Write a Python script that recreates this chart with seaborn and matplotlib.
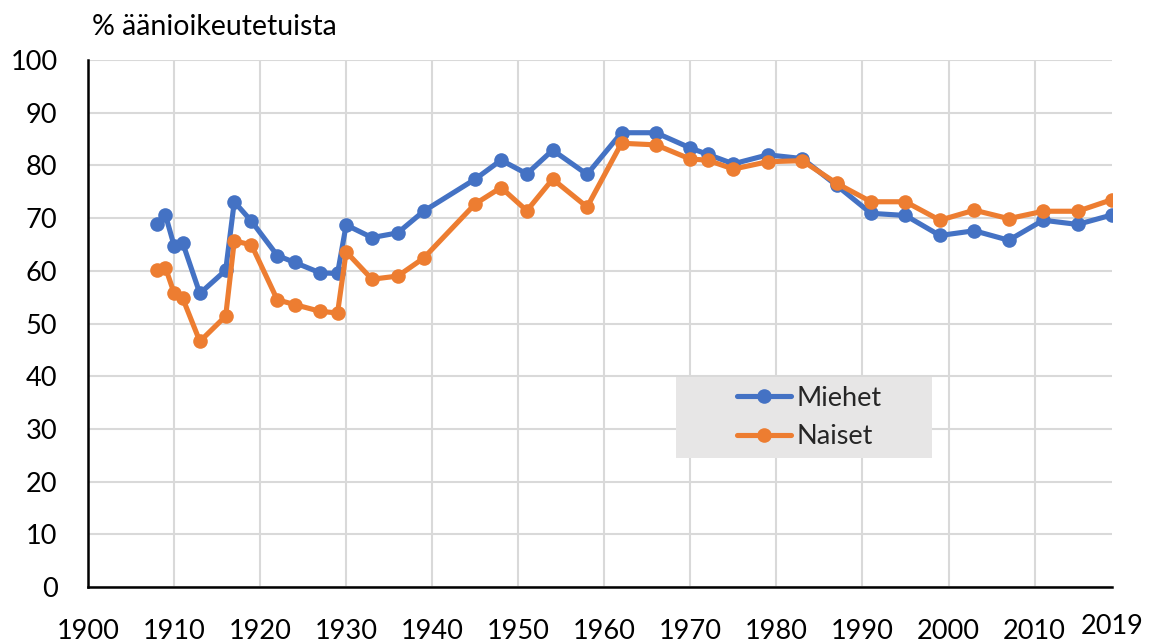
import pandas as pd
import matplotlib
matplotlib.use('Agg')
import matplotlib.pyplot as plt
from matplotlib.lines import Line2D
from matplotlib.patches import Rectangle
import matplotlib.transforms as mtransforms
import seaborn as sns

vuodet = [1908, 1909, 1910, 1911, 1913, 1916, 1917, 1919, 1922, 1924, 1927, 1929,
          1930, 1933, 1936, 1939, 1945, 1948, 1951, 1954, 1958, 1962, 1966, 1970,
          1972, 1975, 1979, 1983, 1987, 1991, 1995, 1999, 2003, 2007, 2011, 2015, 2019]
miehet = [68.8, 70.6, 64.8, 65.3, 55.7, 60.1, 73.1, 69.4, 62.9, 61.6, 59.6, 59.5,
          68.7, 66.3, 67.2, 71.3, 77.4, 81.0, 78.4, 82.9, 78.3, 86.2, 86.2, 83.3,
          82.1, 80.3, 82.0, 81.3, 76.2, 70.9, 70.5, 66.7, 67.6, 65.8, 69.6, 68.8, 70.6]
naiset = [60.2, 60.6, 55.8, 54.8, 46.6, 51.4, 65.7, 64.9, 54.5, 53.6, 52.3, 52.0,
          63.6, 58.4, 59.0, 62.4, 72.7, 75.8, 71.4, 77.4, 72.1, 84.2, 83.9, 81.2,
          81.0, 79.3, 80.7, 80.9, 76.6, 73.1, 73.1, 69.6, 71.5, 69.9, 71.3, 71.3, 73.5]
sarjat = ['Miehet', 'Naiset']
varit = ['#4472C4', '#ED7D31']
x_tikit = list(range(1900, 2011, 10))

df = pd.DataFrame({'vuosi': vuodet, 'Miehet': miehet, 'Naiset': naiset})
df = df.melt(id_vars='vuosi', var_name='sukupuoli', value_name='osuus')

sns.set_style('white')
plt.rcParams['font.family'] = ['Lato', 'DejaVu Sans']

fig = plt.figure(figsize=(11.57, 6.44), dpi=100)
ax = fig.add_axes([88/1157, 1 - 587/644, 1024/1157, 527/644])

sns.lineplot(data=df, x='vuosi', y='osuus', hue='sukupuoli', hue_order=sarjat,
             palette=varit, marker='o', markersize=10.5, markeredgewidth=0,
             linewidth=3.7, legend=False, ax=ax, zorder=3)

ax.set_xlim(1900, 2019)
ax.set_ylim(0, 100)
ax.set_xticks(x_tikit)
ax.set_yticks(range(0, 101, 10))
ax.set_xlabel('')
ax.set_ylabel('')
ax.grid(True, color='#d9d9d9', linewidth=1.5)
ax.set_axisbelow(True)
for s in ['top', 'right']:
    ax.spines[s].set_visible(False)
for s in ['left', 'bottom']:
    ax.spines[s].set_color('black')
    ax.spines[s].set_linewidth(1.8)
ax.tick_params(axis='y', length=0, pad=22, labelsize=19.5, labelcolor='black')
ax.tick_params(axis='x', length=0, pad=23, labelsize=19.5, labelcolor='black')

# viimeinen vuosi erikseen, hieman ylempänä
trans = mtransforms.blended_transform_factory(ax.transData, ax.transAxes)
ax.text(2019, -0.075, '2019', transform=trans, ha='center', va='center',
        fontsize=19.5, color='black')

# selitteen tausta
ax.add_patch(Rectangle((0.574, 0.245), 0.25, 0.154, transform=ax.transAxes,
                       facecolor='#e7e6e6', edgecolor='none', zorder=2.5))
kahvat = [Line2D([0], [0], color=c, linewidth=3.7, marker='o', markersize=10.5,
                 markeredgewidth=0) for c in varit]
leg = ax.legend(kahvat, sarjat, loc='center', bbox_to_anchor=(0.704, 0.322),
                frameon=False, fontsize=19.5, handlelength=2.0, handletextpad=0.2,
                labelspacing=0.5, borderaxespad=0)
leg.set_zorder(4)

fig.text(92/1157, 1 - 27/644, '% äänioikeutetuista', ha='left', va='center',
         fontsize=20.5, color='black')

fig.savefig('out.png', dpi=100)
